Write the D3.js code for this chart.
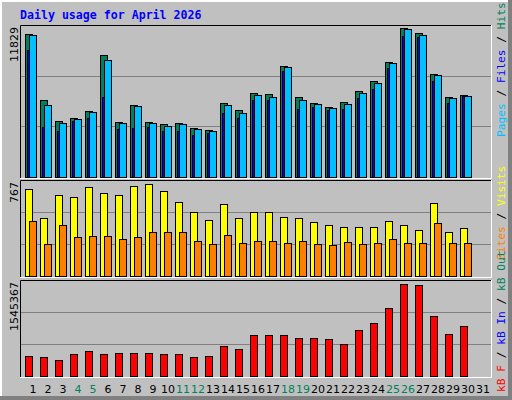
<!DOCTYPE html>
<html><head><meta charset="utf-8">
<script src="https://d3js.org/d3.v7.min.js"></script>
<style>body{margin:0;background:#fff}svg{display:block}</style></head>
<body><svg id="c" width="512" height="400"></svg>
<script>
const days = d3.range(1, 32);
const weekend = [4,5,11,12,18,19,25,26];
const hits = [11377,6070,4438,4703,5266,9664,4358,5724,4358,4197,4277,3899,3714,5885,5322,6689,6609,8780,6368,5885,5564,5966,6850,7574,9101,11829,11433,8136,6368,6528];
const files = [11272,5724,4277,4623,5162,9286,4277,5644,4277,4036,4197,3795,3634,5724,5081,6528,6368,8699,6126,5805,5483,5805,6689,7493,9021,11754,11272,8056,6287,6448];
const pages = [10090,3980,3658,4462,4703,6311,3819,3899,3980,3658,3658,3337,3497,5105,4703,6070,6070,8402,5427,5588,5347,5427,6231,6955,8643,11216,11135,7598,5829,6392];
const visits = [725,483,677,658,742,692,677,750,767,708,616,533,466,602,483,533,533,491,483,449,424,407,407,407,458,424,382,608,366,399];
const sites = [458,265,424,324,332,332,307,324,366,366,366,290,265,340,274,290,290,274,290,265,257,282,265,274,307,274,274,441,274,274];
const kbF = [331990,315140,264580,365690,416240,365690,382540,382540,382540,365690,365690,315140,331990,500500,449950,685880,685880,685880,635320,635320,618470,534210,770140,888100,1140880,1545367,1528510,1006060,702730,837550];
const maxLabels = ["11829","767","1545367"];

const svg = d3.select("#c");
// outer frame
svg.append("rect").attr("x",0).attr("y",0).attr("width",512).attr("height",400).attr("fill","#808080");
svg.append("rect").attr("x",0).attr("y",0).attr("width",508).attr("height",396).attr("fill","#ffffff");
svg.append("rect").attr("x",2).attr("y",2).attr("width",506).attr("height",394).attr("fill","#c0c0c0");

svg.append("text").attr("x",20).attr("y",19).text("Daily usage for April 2026")
  .attr("font-family","DejaVu Sans Mono").attr("font-weight","bold").attr("font-size",11.6).attr("fill","#0000ff");

const x = d3.scaleLinear().domain([1,31]).range([25,475]);
const panels = [
  {top:25,bot:177,max:12054},
  {top:180,bot:276,max:800},
  {top:280,bot:376,max:1612780}
];
panels.forEach((p,i)=>{
  p.y = d3.scaleLinear().domain([0,p.max]).range([p.bot,p.top]);
  const g = svg.append("g");
  g.append("rect").attr("x",20).attr("y",p.top).attr("width",471).attr("height",p.bot-p.top+1).attr("fill","#c0c0c0");
  [1,2].forEach(k=>{
    const yy = Math.round(p.bot-(p.bot-p.top)*k/3)+0.5;
    g.append("line").attr("x1",20).attr("x2",491).attr("y1",yy).attr("y2",yy).attr("stroke","#808080");
  });
  g.append("path").attr("d",`M20.5,${p.bot+1}V${p.top+0.5}H491`).attr("stroke","#000").attr("fill","none");
  g.append("path").attr("d",`M491.5,${p.top}V${p.bot+1.5}H20`).attr("stroke","#fff").attr("fill","none");
  svg.append("text").attr("transform",`translate(18,${p.top+2}) rotate(-90)`).attr("text-anchor","end")
    .attr("font-family","DejaVu Sans").attr("font-size",11).attr("fill","#000").text(maxLabels[i]);
});

function bars(data, p, dx, w, color){
  svg.append("g").selectAll("rect").data(data).join("rect")
    .attr("x",(d,i)=>x(i+1)+dx+0.5).attr("y",d=>Math.round(p.y(d))+0.5)
    .attr("width",w).attr("height",d=>p.bot-Math.round(p.y(d)))
    .attr("fill",color).attr("stroke","#000");
}
bars(hits,panels[0],0,7,"#00805c");
bars(pages,panels[0],2,5,"#0000ff");
bars(files,panels[0],4,7,"#00c0ff");
bars(visits,panels[1],0,7,"#ffff00");
bars(sites,panels[1],4,7,"#ff8000");
bars(kbF,panels[2],0,7,"#ff0000");

svg.append("g").selectAll("text").data(days).join("text")
  .attr("x",d=>x(d)+8).attr("y",393).attr("text-anchor","middle")
  .attr("font-family","DejaVu Sans").attr("font-size",11)
  .attr("fill",d=>weekend.includes(d)?"#00805c":"#000").text(d=>d);

function sideLabel(y, parts){
  const t = svg.append("text").attr("transform",`translate(505,${y}) rotate(-90)`)
    .attr("font-family","DejaVu Sans Mono").attr("font-size",11.2);
  parts.forEach(([s,c])=>t.append("tspan").attr("fill",c).text(s));
}
sideLabel(137,[["Pages","#00c0ff"],[" / ","#000"],["Files","#0000ff"],[" / ","#000"],["Hits","#00805c"]]);
sideLabel(260,[["Sites","#ff8000"],[" / ","#000"],["Visits","#ffff00"]]);
sideLabel(392,[["kB F","#ff0000"],[" / ","#000"],["kB In","#0000ff"],[" / ","#000"],["kB Out","#00805c"]]);
</script></body></html>
